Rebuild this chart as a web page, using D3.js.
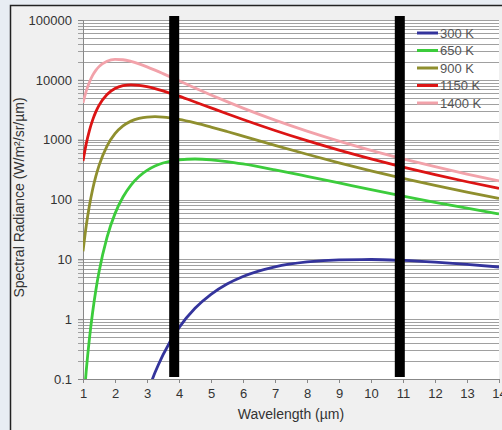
<!DOCTYPE html>
<html>
<head>
<meta charset="utf-8">
<script src="https://cdn.jsdelivr.net/npm/d3@7"></script>
<style>
  html, body { margin: 0; padding: 0; background: #e8edf3; }
  svg { display: block; font-family: "Liberation Sans", Arial, sans-serif; }
</style>
</head>
<body>
<div id="vis-container"></div>
<script>
"use strict";

// Wavelengths (µm) the curves were read at
const wavelengths = [1, 1.1, 1.2, 1.3, 1.4, 1.5, 1.75, 2, 2.25, 2.5, 2.75, 3, 3.25, 3.5,
    4, 4.5, 5, 5.5, 6, 7, 8, 9, 10, 11, 12, 13, 14];

// Spectral radiance (W/m²/sr/µm) for each temperature, null = off the chart
const rad300 = [null, null, null, null, null, null, null, null, null, null, null, 0.056, 0.128, 0.254,
    0.722, 1.52, 2.60, 3.87, 5.18, 7.51, 9.08, 9.83, 9.93, 9.57, 8.96, 8.22, 7.45];
const rad650 = [0.029, 0.135, 0.467, 1.29, 3.01, 6.12, 23.3, 58.1, 110, 174, 242, 306, 362, 407,
    461, 475, 461, 431, 393, 313, 244, 189, 146, 114, 89.9, 71.5, 57.4];
const rad900 = [13.6, 36.1, 78.4, 147, 243, 369, 783, 1258, 1697, 2041, 2270, 2389, 2418, 2380,
    2178, 1904, 1624, 1369, 1147, 804, 570, 411, 302, 226, 172, 133, 104];
const rad1150 = [439, 850, 1419, 2121, 2914, 3742, 5705, 7160, 7977, 8237, 8092, 7690, 7146, 6539,
    5331, 4268, 3400, 2712, 2174, 1425, 962, 669, 478, 349, 261, 198, 153];
const rad1400 = [4099, 6477, 9138, 11837, 14368, 16619, 20482, 21963, 21670, 20327, 18480, 16481, 14522, 12707,
    9647, 7323, 5597, 4319, 3371, 2121, 1391, 946, 664, 479, 353, 266, 204];

const seriesNames = ["300 K", "650 K", "900 K", "1150 K", "1400 K"];
const seriesColors = ["#34349c", "#3ccc3c", "#8f8f2e", "#dc1414", "#f2a2aa"];
const seriesValues = [rad300, rad650, rad900, rad1150, rad1400];

// Thick black markers on the wavelength axis
const markerWavelengths = [3.85, 10.9];

const xTicks = d3.range(1, 15);
const yTicks = [0.1, 1, 10, 100, 1000, 10000, 100000];

function mainIndex()
{
    const width = 502;
    const height = 430;

    const margin = { top: 20, right: 3, bottom: 51, left: 83 };
    const dims = {
        width: width - margin.left - margin.right,
        height: height - margin.top - margin.bottom
    };

    const x = d3.scaleLinear().domain([1, 14]).range([0, dims.width]);
    const y = d3.scaleLog().domain([0.1, 100000]).range([dims.height, 0]);

    const svg = d3.select("#vis-container")
        .append("svg")
        .attr("width", width)
        .attr("height", height);

    // Outer panel
    svg.append("rect")
        .attr("x", 10.5)
        .attr("y", 5.5)
        .attr("width", width)
        .attr("height", height)
        .attr("fill", "#f0f0f0")
        .attr("stroke", "#222")
        .attr("stroke-width", 1.5);

    const g = svg.append("g")
        .attr("transform", `translate(${margin.left},${margin.top})`);

    g.append("rect")
        .attr("width", dims.width)
        .attr("height", dims.height)
        .attr("fill", "#fff");

    g.append("clipPath")
        .attr("id", "plot-clip")
        .append("rect")
        .attr("width", dims.width)
        .attr("height", dims.height);

    // Log grid lines (major + minor)
    const gridValues = [];
    for (let e = -1; e < 5; e++) {
        for (let m = 1; m < 10; m++) gridValues.push(m * Math.pow(10, e));
    }
    gridValues.push(100000);

    g.append("g")
        .selectAll("line")
        .data(gridValues)
        .enter()
        .append("line")
        .attr("x1", -5)
        .attr("x2", dims.width)
        .attr("y1", d => Math.round(y(d)) + 0.5)
        .attr("y2", d => Math.round(y(d)) + 0.5)
        .attr("stroke", "#a0a0a0")
        .attr("stroke-width", 1.2);

    // x-axis
    const xAxis = d3.axisBottom(x)
        .tickValues(xTicks)
        .tickFormat(d3.format("d"))
        .tickSize(4)
        .tickPadding(6);

    const xg = g.append("g")
        .attr("transform", `translate(0,${dims.height})`)
        .call(xAxis);
    xg.select(".domain").attr("stroke", "#888");
    xg.selectAll(".tick line").attr("stroke", "#888");
    xg.selectAll("text").attr("fill", "#333").style("font-size", "13px");

    // y-axis
    const yAxis = d3.axisLeft(y)
        .tickValues(yTicks)
        .tickFormat(d => d < 1 ? "0.1" : d3.format("d")(d))
        .tickSize(5)
        .tickPadding(6);

    const yg = g.append("g").call(yAxis);
    yg.select(".domain").attr("stroke", "#888");
    yg.selectAll(".tick line").attr("stroke", "#888");
    yg.selectAll("text").attr("fill", "#333").style("font-size", "13px");

    // Curves
    const line = d3.line()
        .defined(d => d[1] !== null)
        .x(d => x(d[0]))
        .y(d => y(d[1]))
        .curve(d3.curveMonotoneX);

    const curves = g.append("g").attr("clip-path", "url(#plot-clip)");

    seriesValues.forEach((vals, i) => {
        curves.append("path")
            .datum(wavelengths.map((w, j) => [w, vals[j]]))
            .attr("fill", "none")
            .attr("stroke", seriesColors[i])
            .attr("stroke-width", 2.8)
            .attr("d", line);
    });

    // Black marker bars
    g.selectAll(".marker")
        .data(markerWavelengths)
        .enter()
        .append("rect")
        .attr("class", "marker")
        .attr("x", d => x(d) - 5)
        .attr("y", -4)
        .attr("width", 10)
        .attr("height", dims.height + 2)
        .attr("fill", "#000");

    // Legend
    const legend = g.append("g")
        .attr("transform", `translate(${dims.width - 82},13)`);

    const items = legend.selectAll("g")
        .data(seriesNames)
        .enter()
        .append("g")
        .attr("transform", (d, i) => `translate(0,${i * 17.5})`);

    items.append("line")
        .attr("x1", 0)
        .attr("x2", 21)
        .attr("stroke", (d, i) => seriesColors[i])
        .attr("stroke-width", 3);

    items.append("text")
        .attr("x", 23)
        .attr("dy", "0.35em")
        .attr("fill", "#555")
        .style("font-size", "13px")
        .text(d => d);

    // Axis titles
    g.append("text")
        .attr("x", dims.width / 2 - 0)
        .attr("y", dims.height + 40)
        .attr("text-anchor", "middle")
        .attr("fill", "#333")
        .style("font-size", "14px")
        .text("Wavelength (µm)");

    g.append("text")
        .attr("transform", "rotate(-90)")
        .attr("x", -dims.height / 2 + 2)
        .attr("y", -59)
        .attr("text-anchor", "middle")
        .attr("fill", "#333")
        .style("font-size", "14px")
        .text("Spectral Radiance (W/m²/sr/µm)");
}

document.addEventListener("DOMContentLoaded", mainIndex);
</script>
</body>
</html>
